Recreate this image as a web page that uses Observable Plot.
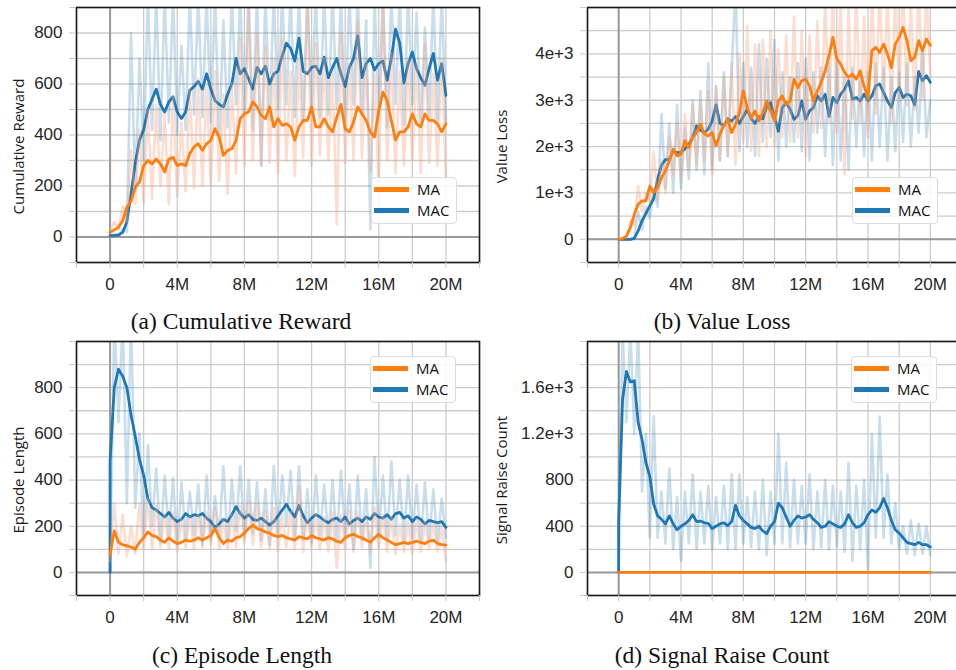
<!DOCTYPE html>
<html><head><meta charset="utf-8">
<script src="https://cdn.jsdelivr.net/npm/d3@7"></script>
<script src="https://cdn.jsdelivr.net/npm/@observablehq/plot@0.6"></script>
<style>
html,body{margin:0;padding:0;background:#fff;overflow:hidden;}
#fig{position:relative;width:956px;height:670px;overflow:hidden;background:#fff;}
.panel{position:absolute;height:300px;}
.panel svg{max-width:none !important;display:block;}
.caption{position:absolute;font-family:"Liberation Serif","Times New Roman",serif;font-size:23.5px;line-height:26px;color:#111;white-space:nowrap;transform:translateX(-50%);}
.legend{position:absolute;width:84px;height:45px;border:1px solid #dcdcdc;border-radius:4px;background:rgba(255,255,255,0.85);font-family:"Open Sans",sans-serif;font-size:15px;color:#111;}
.legend .sw{position:absolute;left:2px;width:35px;height:5px;}
.legend .lb{position:absolute;left:45px;line-height:20px;white-space:nowrap;}
</style>
</head><body>
<div id="fig"></div>
<script>
// ---------- shared values ----------
const STEP_M = 0.25; // million steps between successive samples
const seriesNames = ["MA", "MAC"];
const seriesColors = ["#ff7f0e", "#1f77b4"];
const rawColors = ["#f8a07e", "#1f77b4"];
const xDomain = [-2, 22];
const xMinorTicks = [-2, 0, 2, 4, 6, 8, 10, 12, 14, 16, 18, 20, 22];
const xLabelTicks = [0, 4, 8, 12, 16, 20];
const xLabelText = ["0", "4M", "8M", "12M", "16M", "20M"];

// ---------- (a) Cumulative Reward ----------
const macRewardA = [
  5, 6, 8, 18, 60, 170, 290, 380,
  420, 500, 540, 580, 520, 490, 530, 550,
  490, 465, 490, 575, 590, 610, 580, 640,
  580, 535, 520, 510, 560, 600, 700, 640,
  660, 620, 580, 665, 640, 670, 600, 640,
  650, 710, 760, 740, 690, 780, 650, 640,
  665, 670, 640, 705, 625, 665, 700, 640,
  590, 665, 700, 790, 625, 680, 700, 655,
  680, 690, 615, 700, 815, 760, 605, 680,
  725, 660, 625, 595, 660, 720, 615, 680,
  555];
const maRewardA = [
  18, 28, 38, 64, 116, 140, 196, 215,
  280, 300, 287, 306, 287, 255, 306, 313,
  280, 287, 280, 327, 353, 366, 340, 366,
  379, 425, 392, 320, 340, 346, 379, 464,
  483, 490, 530, 510, 477, 464, 510, 432,
  464, 438, 444, 432, 379, 432, 457, 457,
  510, 432, 432, 464, 432, 412, 470, 520,
  425, 412, 451, 510, 483, 457, 412, 392,
  496, 568, 535, 457, 380, 412, 412, 432,
  483, 444, 432, 483, 457, 457, 444, 412,
  444];
const macRewardRawA = [
  5, 10, 5, 30, 20, 800, 180, 700,
  300, 950, 420, 950, 380, 950, 450, 950,
  400, 750, 420, 950, 480, 950, 470, 950,
  450, 950, 380, 850, 430, 950, 520, 950,
  480, 950, 420, 950, 280, 950, 460, 950,
  500, 950, 520, 950, 470, 950, 450, 950,
  500, 950, 470, 950, 480, 950, 500, 950,
  420, 950, 520, 950, 480, 850, 30, 950,
  470, 950, 430, 950, 520, 950, 440, 950,
  520, 880, 450, 820, 470, 950, 450, 950,
  450];
const maRewardRawA = [
  20, 60, 30, 120, 60, 340, 130, 420,
  130, 500, 150, 520, 200, 480, 130, 550,
  160, 450, 180, 580, 190, 620, 200, 600,
  200, 650, 220, 560, 170, 600, 250, 780,
  280, 900, 300, 800, 280, 750, 290, 700,
  250, 780, 300, 650, 240, 700, 310, 950,
  280, 760, 320, 700, 300, 650, 50, 800,
  290, 680, 300, 850, 310, 700, 260, 640,
  180, 950, 300, 720, 250, 650, 280, 700,
  300, 680, 250, 760, 290, 640, 280, 700,
  230];
const yDomainA = [-100, 900];
const yMinorA = [-100, 0, 100, 200, 300, 400, 500, 600, 700, 800, 900];
const yTicksA = [0, 200, 400, 600, 800];
const yTickTextA = ["0", "200", "400", "600", "800"];

// ---------- (b) Value Loss ----------
const maLossB = [
  0, 15, 70, 250, 540, 755, 830, 830,
  1150, 1010, 1115, 1330, 1475, 1690, 1945, 1800,
  1835, 2125, 1980, 2195, 2300, 2480, 2270, 2230,
  2300, 2015, 2270, 2450, 2590, 2300, 2480, 2735,
  3200, 2840, 2625, 2770, 2555, 2735, 2985, 2770,
  2555, 2985, 3095, 2900, 2985, 3455, 3275, 3420,
  3455, 3310, 2985, 3200, 3385, 3635, 3960, 4355,
  3890, 3780, 3600, 3490, 3565, 3455, 3635, 3300,
  3050, 4070, 4140, 4030, 4210, 4000, 3700, 4210,
  4355, 4570, 4285, 3850, 3925, 4285, 4070, 4320,
  4180];
const macLossB = [
  0, 0, 0, 0, 20, 180, 400, 560,
  720, 880, 1300, 1600, 1720, 1730, 1900, 1870,
  1880, 1950, 2050, 2200, 2450, 2350, 2300, 2380,
  2550, 2900, 2500, 2450, 2600, 2550, 2650, 2500,
  2650, 2800, 2600, 2500, 2650, 2600, 2850, 2950,
  2630, 2330, 2840, 2950, 2805, 2590, 2665, 2985,
  2590, 2770, 2840, 3095, 2985, 3130, 2650, 3060,
  2950, 3130, 3240, 3420, 3025, 3060, 2985, 3130,
  2985, 3095, 3310, 3350, 3165, 2985, 2840, 3165,
  3275, 3060, 3130, 3095, 2900, 3620, 3420, 3530,
  3385];
const maLossRawB = [
  0, 40, 30, 400, 300, 1150, 600, 1000,
  800, 1900, 800, 1700, 1000, 2200, 1400, 2500,
  1300, 2700, 1500, 2900, 1600, 3000, 1700, 3200,
  1400, 3300, 1700, 3500, 1800, 3800, 1600, 4000,
  2100, 4600, 1900, 4200, 1800, 4300, 2000, 4500,
  2000, 4100, 2200, 4400, 2100, 4800, 2200, 4500,
  1800, 4400, 2300, 4700, 2400, 5200, 2500, 5500,
  2300, 5200, 1400, 5000, 2600, 5300, 2500, 4800,
  2200, 5500, 2700, 5500, 3000, 5300, 2500, 5500,
  3000, 5500, 2900, 5200, 2800, 5500, 3000, 5400,
  3500];
const macLossRawB = [
  0, 0, 0, 0, 40, 600, 200, 700,
  450, 1100, 700, 2700, 1100, 2500, 1000, 2900,
  1100, 2400, 1300, 3000, 1500, 3200, 1400, 3800,
  1500, 3300, 1700, 3600, 1800, 3600, 5500, 1900,
  3800, 2000, 3700, 1800, 4200, 2100, 3900, 2200,
  4300, 1700, 3600, 2000, 3500, 2100, 3800, 1900,
  3900, 1700, 3600, 2300, 3700, 1800, 3800, 1600,
  3900, 1700, 3500, 1500, 3700, 2000, 3600, 1800,
  3600, 1700, 3800, 2000, 3700, 1700, 3500, 1900,
  3600, 2100, 3800, 2000, 3500, 2300, 4100, 2200,
  3000];
const yDomainB = [-500, 5000];
const yMinorB = [-500, 0, 500, 1000, 1500, 2000, 2500, 3000, 3500, 4000, 4500, 5000];
const yTicksB = [0, 1000, 2000, 3000, 4000];
const yTickTextB = ["0", "1e+3", "2e+3", "3e+3", "4e+3"];

// ---------- (c) Episode Length ----------
const macLenStartC = 0;
const macLenC = [
  480, 800, 880, 850, 800, 680, 590, 490,
  420, 320, 280, 270, 255, 240, 260, 235,
  220, 230, 255, 240, 250, 245, 255, 235,
  220, 195, 210, 230, 220, 250, 285, 255,
  235, 250, 230, 225, 235, 220, 205, 220,
  245, 270, 295, 265, 240, 290, 245, 215,
  235, 250, 240, 225, 215, 230, 235, 220,
  240, 210, 225, 235, 220, 240, 230, 255,
  240, 235, 250, 230, 255, 260, 235, 245,
  220, 240, 230, 210, 225, 220, 215, 220,
  195];
const maLenC = [
  75, 180, 130, 120, 115, 110, 100, 130,
  150, 175, 160, 155, 140, 130, 150, 135,
  125, 130, 140, 135, 140, 150, 140, 150,
  160, 190, 150, 125, 140, 135, 150, 155,
  170, 190, 205, 190, 185, 175, 170, 160,
  155, 160, 150, 145, 140, 155, 150, 145,
  160, 150, 145, 140, 150, 145, 135, 130,
  150, 160, 165, 155, 150, 140, 130, 150,
  165, 150, 140, 130, 120, 125, 130, 125,
  130, 135, 130, 125, 135, 140, 125, 120,
  118];
const macLenRawC = [
  0, 1100, 650, 1100, 300, 1100, 280, 600,
  150, 550, 200, 450, 130, 420, 160, 410,
  120, 390, 150, 350, 160, 380, 120, 420,
  140, 330, 150, 460, 130, 400, 180, 460,
  150, 400, 170, 390, 140, 360, 120, 460,
  170, 420, 200, 440, 150, 460, 140, 360,
  130, 420, 160, 380, 150, 400, 130, 440,
  160, 380, 100, 420, 140, 360, 20, 500,
  150, 420, 140, 480, 160, 400, 140, 420,
  150, 380, 130, 390, 140, 360, 130, 320,
  150];
const maLenRawC = [
  50, 300, 80, 250, 70, 200, 80, 300,
  100, 320, 100, 290, 110, 250, 100, 260,
  90, 230, 110, 240, 100, 250, 110, 260,
  120, 280, 100, 230, 100, 250, 110, 290,
  130, 310, 120, 300, 110, 270, 100, 280,
  90, 250, 110, 260, 100, 370, 90, 260,
  110, 250, 100, 240, 90, 260, 20, 250,
  100, 270, 90, 260, 110, 240, 90, 280,
  100, 250, 90, 240, 80, 210, 90, 220,
  80, 230, 90, 220, 100, 210, 90, 200,
  50];
const yDomainC = [-100, 1000];
const yMinorC = [-100, 0, 100, 200, 300, 400, 500, 600, 700, 800, 900, 1000];
const yTicksC = [0, 200, 400, 600, 800];
const yTickTextC = ["0", "200", "400", "600", "800"];

// ---------- (d) Signal Raise Count ----------
const macSigStartD = 0;
const macSigD = [
  450, 1500, 1740, 1650, 1660, 1300, 1150, 950,
  830, 590, 490, 460, 420, 490, 420, 370,
  400, 420, 450, 500, 440, 445, 430, 425,
  380, 400, 420, 430, 405, 440, 580, 490,
  450, 420, 390, 380, 400, 360, 335, 400,
  440, 600, 560, 480, 400, 450, 490, 470,
  480, 500, 460, 430, 390, 400, 440, 420,
  400, 390, 420, 500, 430, 390, 400, 430,
  500, 540, 520, 560, 640, 560, 450, 370,
  340, 300, 260, 250, 240, 260, 240, 240,
  220];
const macSigRawD = [
  0, 2100, 1300, 2100, 1200, 2100, 700, 1200,
  300, 1350, 300, 700, 250, 900, 200, 650,
  100, 700, 250, 850, 200, 700, 250, 750,
  200, 650, 250, 750, 200, 850, 200, 850,
  250, 650, 220, 700, 200, 800, 150, 700,
  250, 1200, 250, 950, 220, 800, 250, 750,
  250, 850, 200, 700, 220, 800, 200, 750,
  220, 700, 180, 950, 100, 750, 200, 800,
  20, 1200, 300, 1350, 300, 850, 250, 600,
  200, 400, 160, 450, 150, 420, 160, 400,
  150];
const maSigStepsD = [0, 20];
const maSigD = [0, 0];
const yDomainD = [-200, 2000];
const yMinorD = [-200, 0, 200, 400, 600, 800, 1000, 1200, 1400, 1600, 1800, 2000];
const yTicksD = [0, 400, 800, 1200, 1600];
const yTickTextD = ["0", "400", "800", "1.2e+3", "1.6e+3"];

// ---------- helpers ----------
function rows(values, start) {
  const r = values.map((v, i) => ({x: i * STEP_M, y: v}));
  if (start !== undefined) r.unshift({x: 0, y: start});
  return r;
}
function rowsAt(xs, values) { return values.map((v, i) => ({x: xs[i], y: v})); }

const fig = document.getElementById("fig");

function makePanel(p) {
  const marks = [
    Plot.gridX(xMinorTicks, {stroke: "#cccccc", strokeOpacity: 1, strokeWidth: 1.3}),
    Plot.gridY(p.yMinor, {stroke: "#cccccc", strokeOpacity: 1, strokeWidth: 1.3}),
    Plot.ruleX([0], {stroke: "#999999", strokeWidth: 2}),
    Plot.ruleY([0], {stroke: "#999999", strokeWidth: 2}),
  ];
  if (p.macRaw) marks.push(Plot.line(p.macRaw, {x: "x", y: "y", stroke: rawColors[1], strokeOpacity: 0.24, strokeWidth: 2.6, clip: true}));
  marks.push(Plot.line(p.mac, {x: "x", y: "y", stroke: seriesColors[1], strokeWidth: 2.8, clip: true}));
  if (p.maRaw) marks.push(Plot.line(p.maRaw, {x: "x", y: "y", stroke: rawColors[0], strokeOpacity: 0.36, strokeWidth: 2.6, clip: true}));
  marks.push(Plot.line(p.ma, {x: "x", y: "y", stroke: seriesColors[0], strokeWidth: 2.8, clip: true}));
  marks.push(
    Plot.frame({stroke: "#1a1a1a", strokeWidth: 1.6}),
    Plot.axisX(xMinorTicks, {tickSize: 6, stroke: "#c8c8c8", tickFormat: () => "", label: null}),
    Plot.axisX(xLabelTicks, {tickSize: 0, tickPadding: 15, tickFormat: d => xLabelText[xLabelTicks.indexOf(d)], fill: "#262626", fontSize: 17, label: null}),
    Plot.axisY(p.yMinor, {tickSize: 7, stroke: "#c8c8c8", tickFormat: () => "", label: null}),
    Plot.axisY(p.yTicks, {tickSize: 0, tickPadding: 14, tickFormat: d => p.yTickText[p.yTicks.indexOf(d)], fill: "#262626", fontSize: 17, label: null}),
    Plot.text([p.ylabel], {frameAnchor: "left", dx: p.labelX - p.marginLeft, dy: 11.5, rotate: -90, text: d => d,
      fontFamily: "Open Sans", fontSize: 15, fill: "#1a1a1a", textAnchor: "middle"})
  );
  const chart = Plot.plot({
    width: p.width, height: 300,
    marginLeft: p.marginLeft, marginRight: p.marginRight, marginTop: 7, marginBottom: p.marginBottom,
    x: {domain: xDomain, label: null},
    y: {domain: p.yDomain, label: null},
    style: {fontFamily: "'Liberation Sans', Arial, sans-serif", fontSize: "17px", background: "transparent", overflow: "visible", maxWidth: "none"},
    marks
  });
  const wrap = document.createElement("div");
  wrap.className = "panel";
  wrap.style.left = p.left + "px";
  wrap.style.top = p.top + "px";
  wrap.style.width = p.width + "px";
  wrap.appendChild(chart);
  fig.appendChild(wrap);

  // legend
  const lg = document.createElement("div");
  lg.className = "legend";
  lg.style.left = p.legend[0] + "px";
  lg.style.top = p.legend[1] + "px";
  seriesNames.forEach((name, i) => {
    const cy = 11 + 21 * i;
    const sw = document.createElement("div");
    sw.className = "sw"; sw.style.top = (cy - 2.5) + "px"; sw.style.background = seriesColors[i];
    const lb = document.createElement("div");
    lb.className = "lb"; lb.style.top = (cy - 10) + "px"; lb.textContent = name;
    lg.appendChild(sw); lg.appendChild(lb);
  });
  fig.appendChild(lg);

  const cap = document.createElement("div");
  cap.className = "caption";
  cap.style.left = p.caption[0] + "px";
  cap.style.top = p.caption[1] + "px";
  cap.textContent = p.captionText;
  fig.appendChild(cap);
}

makePanel({left: 0, top: 0, width: 480, marginLeft: 76, marginRight: 1, marginBottom: 38, labelX: 19,
  yDomain: yDomainA, yMinor: yMinorA, yTicks: yTicksA, yTickText: yTickTextA, ylabel: "Cumulative Reward",
  ma: rows(maRewardA), mac: rows(macRewardA), maRaw: rows(maRewardRawA), macRaw: rows(macRewardRawA),
  legend: [371, 177], caption: [241, 308], captionText: "(a) Cumulative Reward"});
makePanel({left: 480, top: 0, width: 484, marginLeft: 107, marginRight: 3, marginBottom: 38, labelX: 22,
  yDomain: yDomainB, yMinor: yMinorB, yTicks: yTicksB, yTickText: yTickTextB, ylabel: "Value Loss",
  ma: rows(maLossB), mac: rows(macLossB), maRaw: rows(maLossRawB), macRaw: rows(macLossRawB),
  legend: [852, 177], caption: [722, 308], captionText: "(b) Value Loss"});
makePanel({left: 0, top: 334, width: 480, marginLeft: 76, marginRight: 1, marginBottom: 39, labelX: 19,
  yDomain: yDomainC, yMinor: yMinorC, yTicks: yTicksC, yTickText: yTickTextC, ylabel: "Episode Length",
  ma: rows(maLenC), mac: rows(macLenC, macLenStartC), maRaw: rows(maLenRawC), macRaw: rows(macLenRawC),
  legend: [370, 356], caption: [242, 642], captionText: "(c) Episode Length"});
makePanel({left: 480, top: 334, width: 484, marginLeft: 107, marginRight: 3, marginBottom: 39, labelX: 22,
  yDomain: yDomainD, yMinor: yMinorD, yTicks: yTicksD, yTickText: yTickTextD, ylabel: "Signal Raise Count",
  ma: rowsAt(maSigStepsD, maSigD), mac: rows(macSigD, macSigStartD), maRaw: null, macRaw: rows(macSigRawD),
  legend: [851, 356], caption: [722, 642], captionText: "(d) Signal Raise Count"});
</script>
</body></html>
